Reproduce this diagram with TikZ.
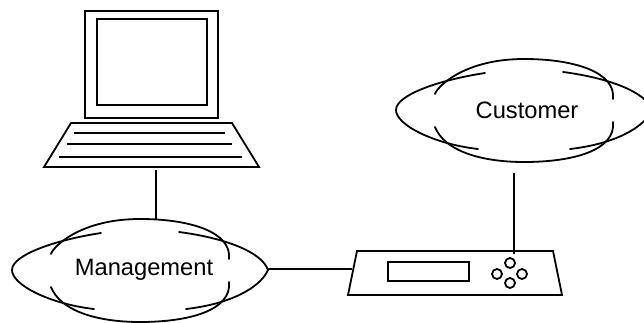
\documentclass[tikz,border=0pt]{standalone}
\usepackage{fontspec}
\setmainfont{Liberation Sans}
\tikzset{
  ink/.style={line width=1.8pt,line join=miter,black},
  lbl/.style={font=\fontsize{23.7}{26}\selectfont,inner sep=0pt,text=black},
  knob/.style={circle,draw,line width=1.8pt,minimum size=10pt,inner sep=0pt},
  cloudshape/.pic={
    \draw[ink,line cap=round] (-89,-16) .. controls (-87,-23) and (-60,-51) .. (0,-51) .. controls (50,-51) and (92,-38) .. (89,-11);
    \draw[ink,line cap=round] (-89,17) .. controls (-80,40) and (-45,52) .. (0,52) .. controls (50,52) and (92,40) .. (89,12);
    \draw[ink,line cap=round] (-39,-37) .. controls (-85,-30) and (-128,-15) .. (-128,0) .. controls (-128,15) and (-90,34) .. (-46,39);
    \draw[ink,line cap=round] (39,-38) .. controls (85,-32) and (122,-18) .. (128,0) .. controls (120,18) and (90,34) .. (46,39);
  }
}
\begin{document}
\begin{tikzpicture}[x=1pt,y=-1pt]
\path[use as bounding box] (0,0) rectangle (644,323);
\clip (0,0) rectangle (644,323);
% laptop
\draw[ink] (85,11) rectangle (218,118);
\draw[ink] (97,19) rectangle (207,105);
\draw[ink] (71,123) -- (232,123) -- (259,167) -- (44,167) -- cycle;
\draw[ink] (74,133) -- (225,133);
\draw[ink] (67,144) -- (232,144);
\draw[ink] (59,157) -- (242,157);
% clouds
\pic at (140,270) {cloudshape};
\pic at (524,110) {cloudshape};
\node[lbl] (mgmt) at (144,270) {Management};
\node[lbl] (cust) at (527,110) {Customer};
% device
\draw[ink] (357,251) -- (553,251) -- (562,295) -- (348,295) -- cycle;
\draw[ink] (388,262) rectangle (469,281);
\node[knob] (k1) at (510,263) {};
\node[knob] (k2) at (497,274) {};
\node[knob] (k3) at (522,274) {};
\node[knob] (k4) at (510,283) {};
% connectors
\coordinate (lapFoot) at (156,170);
\coordinate (mgmtTop) at (156,219);
\coordinate (mgmtRight) at (268,269);
\coordinate (devLeft) at (352,269);
\coordinate (custFoot) at (514,173);
\coordinate (devTop) at (514,254);
\draw[ink] (lapFoot) -- (mgmtTop);
\draw[ink] (mgmtRight) -- (devLeft);
\draw[ink] (custFoot) -- (devTop);
\end{tikzpicture}
\end{document}
